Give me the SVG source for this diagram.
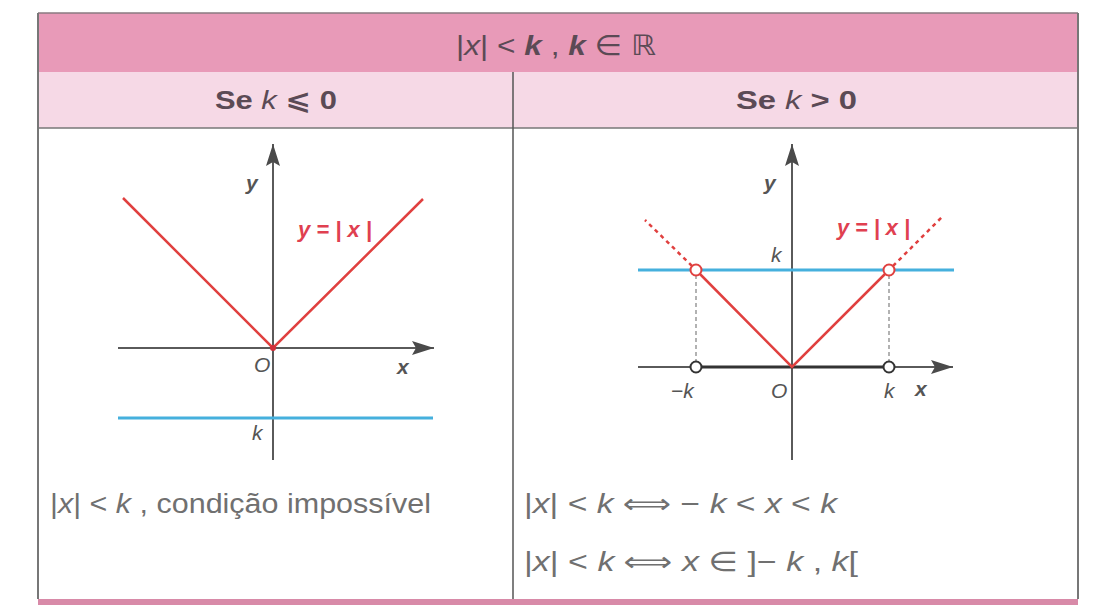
<svg xmlns="http://www.w3.org/2000/svg" width="1107" height="605" viewBox="0 0 1107 605">
<style>
.t{font-family:"Liberation Sans","DejaVu Sans",sans-serif;fill:#5b4a55}
.g{font-family:"Liberation Sans","DejaVu Sans",sans-serif;fill:#707070}
.i{font-style:italic}
.ax{stroke:#5a5a5a;stroke-width:2;fill:none}
.red{stroke:#e0403f;stroke-width:2.5;fill:none}
.blue{stroke:#45b0dd;stroke-width:3;fill:none}
.lbl{font-family:"Liberation Sans","DejaVu Sans",sans-serif;font-style:italic;fill:#555;font-size:21px}
.rl{font-family:"Liberation Sans","DejaVu Sans",sans-serif;font-style:italic;fill:#e04050;font-size:22px;font-weight:bold}
</style>
<defs>
<marker id="arrB" viewBox="0 0 22 14" refX="22" refY="7" markerWidth="22" markerHeight="14" markerUnits="userSpaceOnUse" orient="auto">
<path d="M0,0 L22,7 L0,14 L4,7 Z" fill="#4a4a4a"/>
</marker>
</defs>
<rect x="0" y="0" width="1107" height="605" fill="#ffffff"/>
<g id="table">
<rect x="38" y="13" width="1040" height="59" fill="#e89ab8"/>
<rect x="38" y="72" width="1040" height="56" fill="#f6d9e6"/>
<rect x="38" y="128" width="1040" height="471" fill="#ffffff"/>
<rect x="38" y="599" width="1040" height="6" fill="#d88aa8"/>
<line x1="38" y1="13" x2="1078" y2="13" stroke="#8a7a80" stroke-width="1.5"/>
<line x1="38" y1="128" x2="1078" y2="128" stroke="#777" stroke-width="1.5"/>
<line x1="38" y1="13" x2="38" y2="599" stroke="#777" stroke-width="2"/>
<line x1="1078" y1="13" x2="1078" y2="599" stroke="#777" stroke-width="2"/>
<line x1="513" y1="72" x2="513" y2="599" stroke="#555" stroke-width="1.5"/>
</g>
<g id="title">
<text class="t" x="456" y="55" font-size="28" textLength="200" lengthAdjust="spacingAndGlyphs">|<tspan class="i">x</tspan>| &lt; <tspan class="i" font-weight="bold">k</tspan> , <tspan class="i" font-weight="bold">k</tspan> ∈ ℝ</text>
</g>
<g id="head-left">
<text class="t" x="215" y="109" font-size="26" font-weight="bold" textLength="122" lengthAdjust="spacingAndGlyphs">Se <tspan class="i" font-weight="normal">k</tspan> ⩽ 0</text>
</g>
<g id="head-right">
<text class="t" x="736" y="109" font-size="26" font-weight="bold" textLength="121" lengthAdjust="spacingAndGlyphs">Se <tspan class="i" font-weight="normal">k</tspan> &gt; 0</text>
</g>
<g id="graph-left">
<line class="ax" x1="118" y1="348" x2="434" y2="348" marker-end="url(#arrB)"/>
<line class="ax" x1="273" y1="460" x2="273" y2="144" marker-end="url(#arrB)"/>
<line class="blue" x1="118" y1="418" x2="433" y2="418"/>
<polyline class="red" points="123,198 273,348 423,199"/>
<circle cx="273" cy="348" r="3" fill="#d0303a"/>
<text class="lbl" x="246" y="190" font-weight="bold">y</text>
<text class="rl" x="298" y="237" textLength="74" lengthAdjust="spacingAndGlyphs">y = | x |</text>
<text class="lbl" x="254" y="372" fill="#888">O</text>
<text class="lbl" x="397" y="374" font-weight="bold" fill="#444">x</text>
<text class="lbl" x="252" y="440" fill="#777">k</text>
</g>
<g id="graph-right">
<line class="ax" x1="638" y1="367" x2="953" y2="367" marker-end="url(#arrB)"/>
<line class="ax" x1="792" y1="460" x2="792" y2="144" marker-end="url(#arrB)"/>
<line x1="696" y1="367" x2="889" y2="367" stroke="#333" stroke-width="3"/>
<line class="blue" x1="638" y1="270" x2="954" y2="270"/>
<line x1="696" y1="275" x2="696" y2="362" stroke="#999" stroke-width="1.5" stroke-dasharray="4,3"/>
<line x1="889" y1="275" x2="889" y2="362" stroke="#999" stroke-width="1.5" stroke-dasharray="4,3"/>
<line x1="692" y1="266" x2="645" y2="220" stroke="#e0403f" stroke-width="2.5" stroke-dasharray="4,4"/>
<line x1="893" y1="266" x2="942" y2="217" stroke="#e0403f" stroke-width="2.5" stroke-dasharray="4,4"/>
<polyline class="red" points="696,270 792,367 889,270"/>
<circle cx="696" cy="270" r="5.5" fill="#fff" stroke="#e0403f" stroke-width="2"/>
<circle cx="889" cy="270" r="5.5" fill="#fff" stroke="#e0403f" stroke-width="2"/>
<circle cx="696" cy="367" r="5.5" fill="#fff" stroke="#333" stroke-width="2"/>
<circle cx="889" cy="367" r="5.5" fill="#fff" stroke="#333" stroke-width="2"/>
<text class="lbl" x="764" y="190" font-weight="bold">y</text>
<text class="rl" x="837" y="235" textLength="73" lengthAdjust="spacingAndGlyphs">y = | x |</text>
<text class="lbl" x="771" y="262" fill="#888">k</text>
<text class="lbl" x="671" y="398" fill="#888">−k</text>
<text class="lbl" x="771" y="398" fill="#888">O</text>
<text class="lbl" x="884" y="398" fill="#888">k</text>
<text class="lbl" x="915" y="396" font-weight="bold" fill="#444">x</text>
</g>
<g id="text-left">
<text class="g" x="50" y="513" font-size="27" textLength="381" lengthAdjust="spacingAndGlyphs">|<tspan class="i">x</tspan>| &lt; <tspan class="i">k</tspan> ,  condição impossível</text>
</g>
<g id="text-right">
<text class="g" x="524" y="513" font-size="27" textLength="313" lengthAdjust="spacingAndGlyphs">|<tspan class="i">x</tspan>| &lt; <tspan class="i">k</tspan>  ⟺  − <tspan class="i">k</tspan> &lt; <tspan class="i">x</tspan> &lt; <tspan class="i">k</tspan></text>
<text class="g" x="524" y="571" font-size="27" textLength="334" lengthAdjust="spacingAndGlyphs">|<tspan class="i">x</tspan>| &lt; <tspan class="i">k</tspan>  ⟺  <tspan class="i">x</tspan> ∈ ]− <tspan class="i">k</tspan> ,  <tspan class="i">k</tspan>[</text>
</g>
</svg>
